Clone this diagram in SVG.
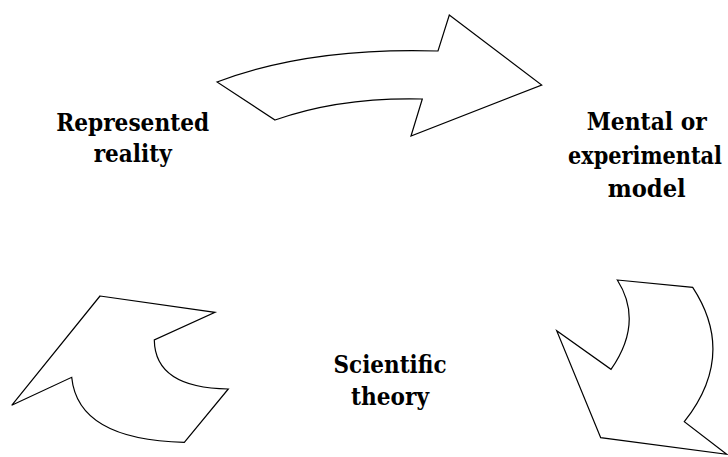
<svg xmlns="http://www.w3.org/2000/svg" width="728" height="457" viewBox="0 0 728 457">
<style>
.arrow{fill:#fff;stroke:#000;stroke-width:1.2;stroke-linejoin:miter}
.lbl{font-family:'DejaVu Serif',serif;font-weight:bold;font-size:25px;fill:#000;text-anchor:middle}
</style>
<rect width="728" height="457" fill="#fff"/>
<g id="connectors">
<path id="arrow-top" class="arrow" d="M217,82 Q309,47 438,51 L449.3,15 L541.7,85 L411,136 L422.3,99 Q340,97 275,120 Z"/>
<path id="arrow-right" class="arrow" d="M617.3,280 L692.7,287.3 Q737,355 684.3,421.7 L726.7,454.3 L600.7,437.7 L556.7,330.7 L611,369.3 Q644,322 617.3,280 Z"/>
<path id="arrow-left" class="arrow" d="M100,296 L215,312.3 L154.3,340 Q155,388 228.3,389 L184.3,442.3 Q78,440 71.7,377.3 L11.7,405.3 Z"/>
</g>
<g id="node-reality">
<text class="lbl" x="132.7" y="130.7" textLength="153" lengthAdjust="spacingAndGlyphs">Represented</text>
<text class="lbl" x="132.7" y="161.7" textLength="78" lengthAdjust="spacingAndGlyphs">reality</text>
</g>
<g id="node-model">
<text class="lbl" x="646.7" y="130" textLength="120" lengthAdjust="spacingAndGlyphs">Mental or</text>
<text class="lbl" x="722" y="163.5" style="text-anchor:end" textLength="154" lengthAdjust="spacingAndGlyphs">experimental</text>
<text class="lbl" x="646.7" y="197" textLength="78" lengthAdjust="spacingAndGlyphs">model</text>
</g>
<g id="node-theory">
<text class="lbl" x="390" y="373" textLength="113" lengthAdjust="spacingAndGlyphs">Scientific</text>
<text class="lbl" x="390" y="405" textLength="78" lengthAdjust="spacingAndGlyphs">theory</text>
</g>
</svg>
